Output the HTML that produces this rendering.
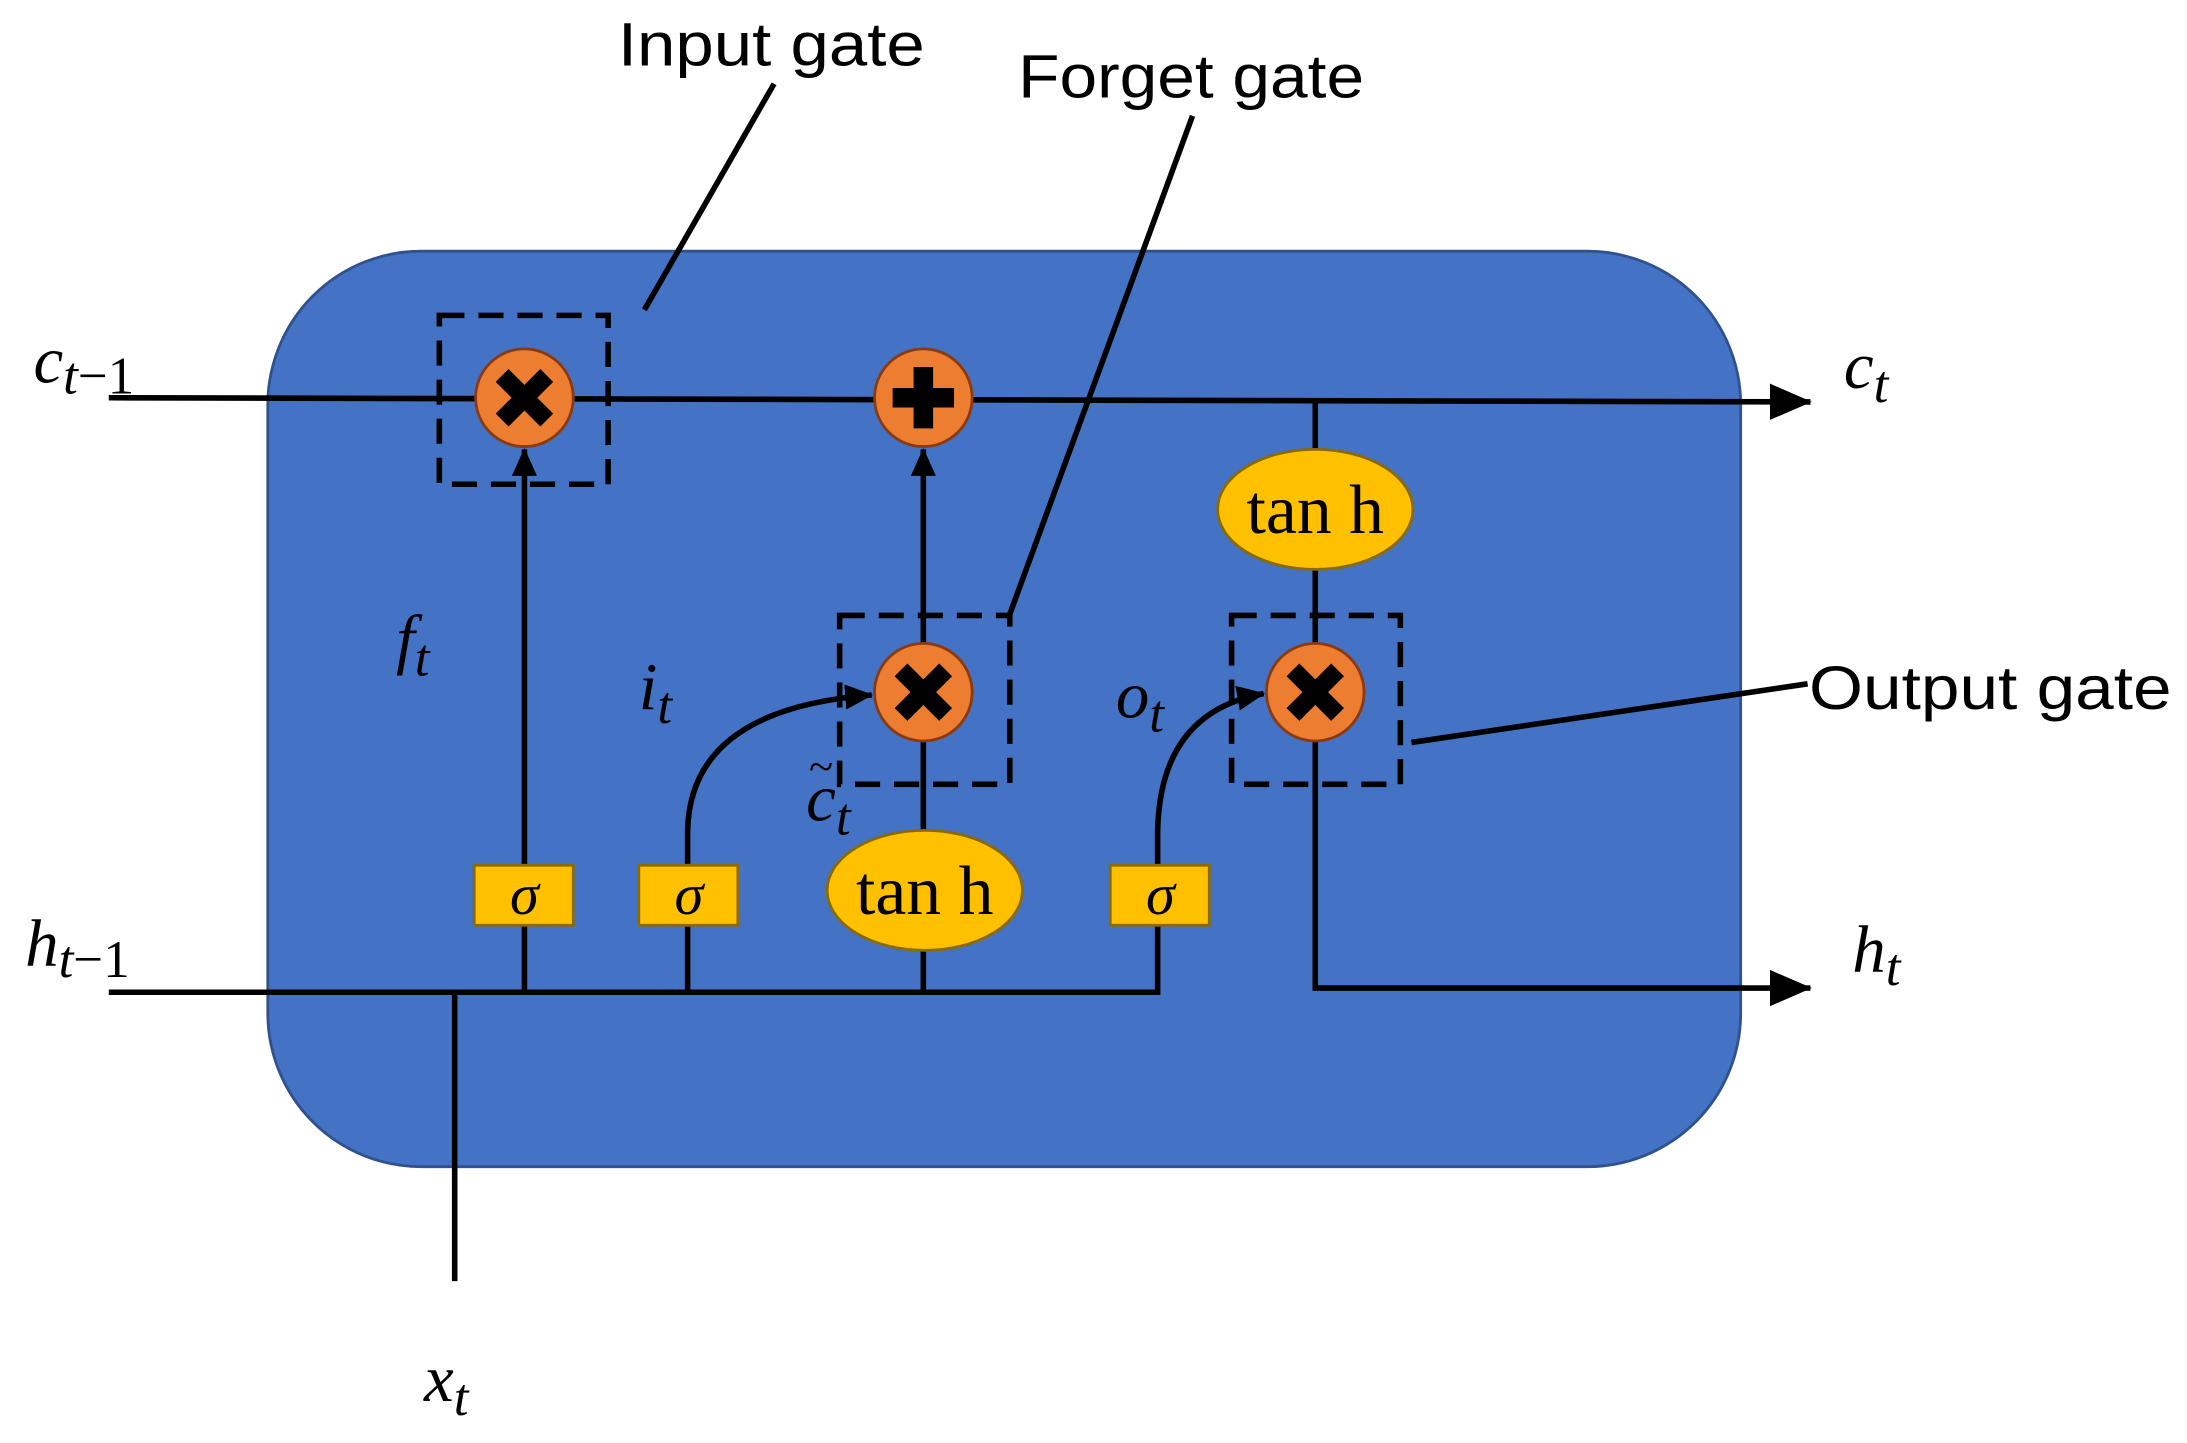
<!DOCTYPE html>
<html><head><meta charset="utf-8"><style>
html,body{margin:0;padding:0;background:#fff;}
svg{display:block;}
.s{font-family:"Liberation Sans",sans-serif;font-size:44px;fill:#000;}
.m{font-family:"Liberation Serif",serif;font-style:italic;fill:#000;}
.t{font-family:"Liberation Serif",serif;font-size:50px;fill:#000;}
</style></head><body>
<svg width="2187" height="1443" viewBox="0 0 1568 1034" preserveAspectRatio="none" xmlns="http://www.w3.org/2000/svg">
<defs>
<marker id="b" markerWidth="30" markerHeight="26" refX="29" refY="13" orient="auto" markerUnits="userSpaceOnUse"><path d="M0,0 L30,13 L0,26 z" fill="#000"/></marker>
<marker id="c" markerWidth="20" markerHeight="18" refX="19" refY="9" orient="auto" markerUnits="userSpaceOnUse"><path d="M0,0 L20,9 L0,18 z" fill="#000"/></marker>
<g id="x"><circle r="35" fill="#ED7D31" stroke="#8B3A0E" stroke-width="2"/><path d="M-16,-16 L16,16 M16,-16 L-16,16" stroke="#000" stroke-width="13"/></g>
</defs>
<rect x="192" y="180" width="1056" height="656" rx="110" fill="#4472C4" stroke="#2F528F" stroke-width="2"/>
<path d="M78,285 L1298,288" stroke="#000" stroke-width="4" fill="none" marker-end="url(#b)"/>
<path d="M78,711 L830,711 L830,663" stroke="#000" stroke-width="4" fill="none"/>
<path d="M943,531 L943,708 L1298,708" stroke="#000" stroke-width="4" fill="none" marker-end="url(#b)"/>
<path d="M326,711 L326,918" stroke="#000" stroke-width="4"/>
<path d="M376,711 L376,322" stroke="#000" stroke-width="4" fill="none" marker-end="url(#c)"/>
<path d="M493,711 L493,663" stroke="#000" stroke-width="4"/>
<path d="M493,620 L493,595 Q495,508 625,498" stroke="#000" stroke-width="4" fill="none" marker-end="url(#c)"/>
<path d="M662,711 L662,531" stroke="#000" stroke-width="4"/>
<path d="M662,461 L662,322" stroke="#000" stroke-width="4" fill="none" marker-end="url(#c)"/>
<path d="M830,620 L830,595 Q832,510 906,497" stroke="#000" stroke-width="4" fill="none" marker-end="url(#c)"/>
<path d="M943,288 L943,461" stroke="#000" stroke-width="4"/>
<use href="#x" x="376" y="285"/>
<use href="#x" x="662" y="496"/>
<use href="#x" x="943" y="496"/>
<circle cx="662" cy="285" r="35" fill="#ED7D31" stroke="#8B3A0E" stroke-width="2"/>
<path d="M662,263 L662,307 M640,285 L684,285" stroke="#000" stroke-width="14"/>
<g fill="none" stroke="#000" stroke-width="4" stroke-dasharray="18,10">
<rect x="315" y="226" width="121" height="121"/>
<rect x="602" y="441" width="122" height="121"/>
<rect x="883" y="441" width="121" height="121"/>
</g>
<ellipse cx="943" cy="365" rx="70" ry="43" fill="#FFC000" stroke="#8B6B00" stroke-width="2"/>
<text x="943" y="382" class="t" text-anchor="middle">tan h</text>
<ellipse cx="663" cy="638" rx="70" ry="43" fill="#FFC000" stroke="#8B6B00" stroke-width="2"/>
<text x="663" y="655" class="t" text-anchor="middle">tan h</text>
<g fill="#FFC000" stroke="#8B6B00" stroke-width="2">
<rect x="340" y="620" width="71" height="43"/><rect x="458" y="620" width="71" height="43"/><rect x="796" y="620" width="71" height="43"/>
</g>
<g class="m" font-size="42" text-anchor="middle">
<text x="376" y="655">σ</text><text x="494" y="655">σ</text><text x="832" y="655">σ</text>
</g>
<g class="m" font-size="48">
<text x="24" y="274">c<tspan font-size="38" dy="8">t</tspan><tspan font-size="38" font-style="normal">−1</tspan></text>
<text x="1322" y="278">c<tspan font-size="38" dy="10">t</tspan></text>
<text x="18" y="692">h<tspan font-size="38" dy="8">t</tspan><tspan font-size="38" font-style="normal">−1</tspan></text>
<text x="1328" y="696">h<tspan font-size="38" dy="10">t</tspan></text>
<text x="304" y="1004">x<tspan font-size="38" dy="10">t</tspan></text>
<text x="284" y="474">f<tspan font-size="38" dy="10">t</tspan></text>
<text x="458" y="508">i<tspan font-size="38" dy="10">t</tspan></text>
<text x="800" y="514">o<tspan font-size="38" dy="10">t</tspan></text>
<text x="578" y="588">c<tspan font-size="38" dy="10">t</tspan></text>
<text x="580" y="560" font-size="32" font-style="normal">~</text>
</g>
<text x="443" y="47" class="s" textLength="220" lengthAdjust="spacingAndGlyphs">Input gate</text>
<text x="730" y="70" class="s" textLength="248" lengthAdjust="spacingAndGlyphs">Forget gate</text>
<text x="1297" y="508" class="s" textLength="260" lengthAdjust="spacingAndGlyphs">Output gate</text>
<g stroke="#000" stroke-width="4">
<path d="M555,60 L462,222"/>
<path d="M855,83 L724,440"/>
<path d="M1296,490 L1012,532"/>
</g>
</svg>
</body></html>
